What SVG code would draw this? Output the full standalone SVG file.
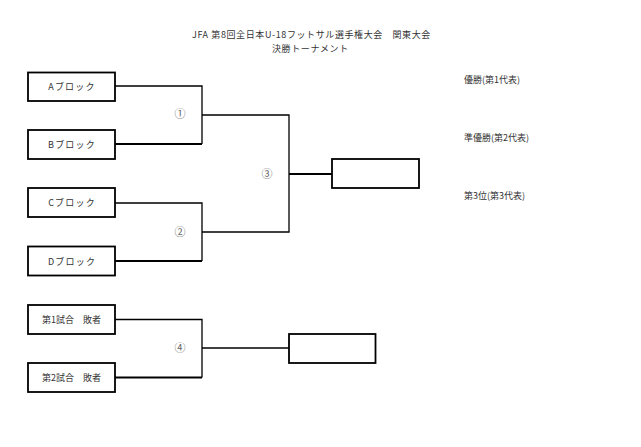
<svg xmlns="http://www.w3.org/2000/svg" width="641" height="447" viewBox="0 0 641 447">
<style>
.box{fill:#fff;stroke:#000;stroke-width:1.8}
.ln{fill:none;stroke:#000;stroke-width:1.3}
.lnb{fill:none;stroke:#000;stroke-width:2}
.t{font-family:"Noto Sans CJK JP","Noto Sans",sans-serif;font-size:9px;fill:#333}
.c{font-family:"Noto Sans CJK JP","Noto Sans",sans-serif;font-size:11px;fill:#666;text-anchor:middle}
.m{text-anchor:middle}
.sp{letter-spacing:0.6px}
.bl{letter-spacing:1.2px}
</style>
<rect width="641" height="447" fill="#fff"/>
<g id="title">
<text class="t sp" x="192" y="38">JFA  第8回全日本U-18フットサル選手権大会　関東大会</text>
<text class="t sp" x="272" y="52">決勝トーナメント</text>
</g>
<g id="connectors">
<polyline class="ln" points="115,86 202,86 202,144"/>
<polyline class="lnb" points="115,144 202,144"/>
<polyline class="ln" points="115,203 202,203 202,261"/>
<polyline class="lnb" points="115,261 202,261"/>
<polyline class="ln" points="115,319.5 202,319.5 202,377.5"/>
<polyline class="lnb" points="115,377.5 202,377.5"/>
<polyline class="ln" points="202,115 289,115 289,232 202,232"/>
<polyline class="lnb" points="289,174 332,174"/>
<polyline class="ln" points="202,348 289,348"/>
</g>
<g id="nodeA"><rect class="box" x="28" y="72.5" width="87" height="28.5"/><text class="t m bl" x="72" y="90">Aブロック</text></g>
<g id="nodeB"><rect class="box" x="28" y="130" width="87" height="29"/><text class="t m bl" x="72" y="148">Bブロック</text></g>
<g id="nodeC"><rect class="box" x="28" y="188" width="87" height="29"/><text class="t m bl" x="72" y="206">Cブロック</text></g>
<g id="nodeD"><rect class="box" x="28" y="246.5" width="87" height="29"/><text class="t m bl" x="72" y="264.5">Dブロック</text></g>
<g id="nodeL1"><rect class="box" x="28" y="305" width="87" height="29"/><text class="t m" x="71.5" y="323">第1試合　敗者</text></g>
<g id="nodeL2"><rect class="box" x="28" y="363" width="87" height="29"/><text class="t m" x="71.5" y="381">第2試合　敗者</text></g>
<g id="nodeFinal"><rect class="box" x="332" y="159" width="87" height="29"/></g>
<g id="nodeThird"><rect class="box" x="289" y="334" width="86.5" height="29"/></g>
<g id="matchLabels">
<text class="c" x="180" y="118">①</text>
<text class="c" x="180" y="236">②</text>
<text class="c" x="267" y="178">③</text>
<text class="c" x="180" y="352">④</text>
</g>
<g id="results">
<text class="t" x="464" y="83">優勝(第1代表)</text>
<text class="t" x="464" y="141">準優勝(第2代表)</text>
<text class="t" x="464" y="199">第3位(第3代表)</text>
</g>
</svg>
